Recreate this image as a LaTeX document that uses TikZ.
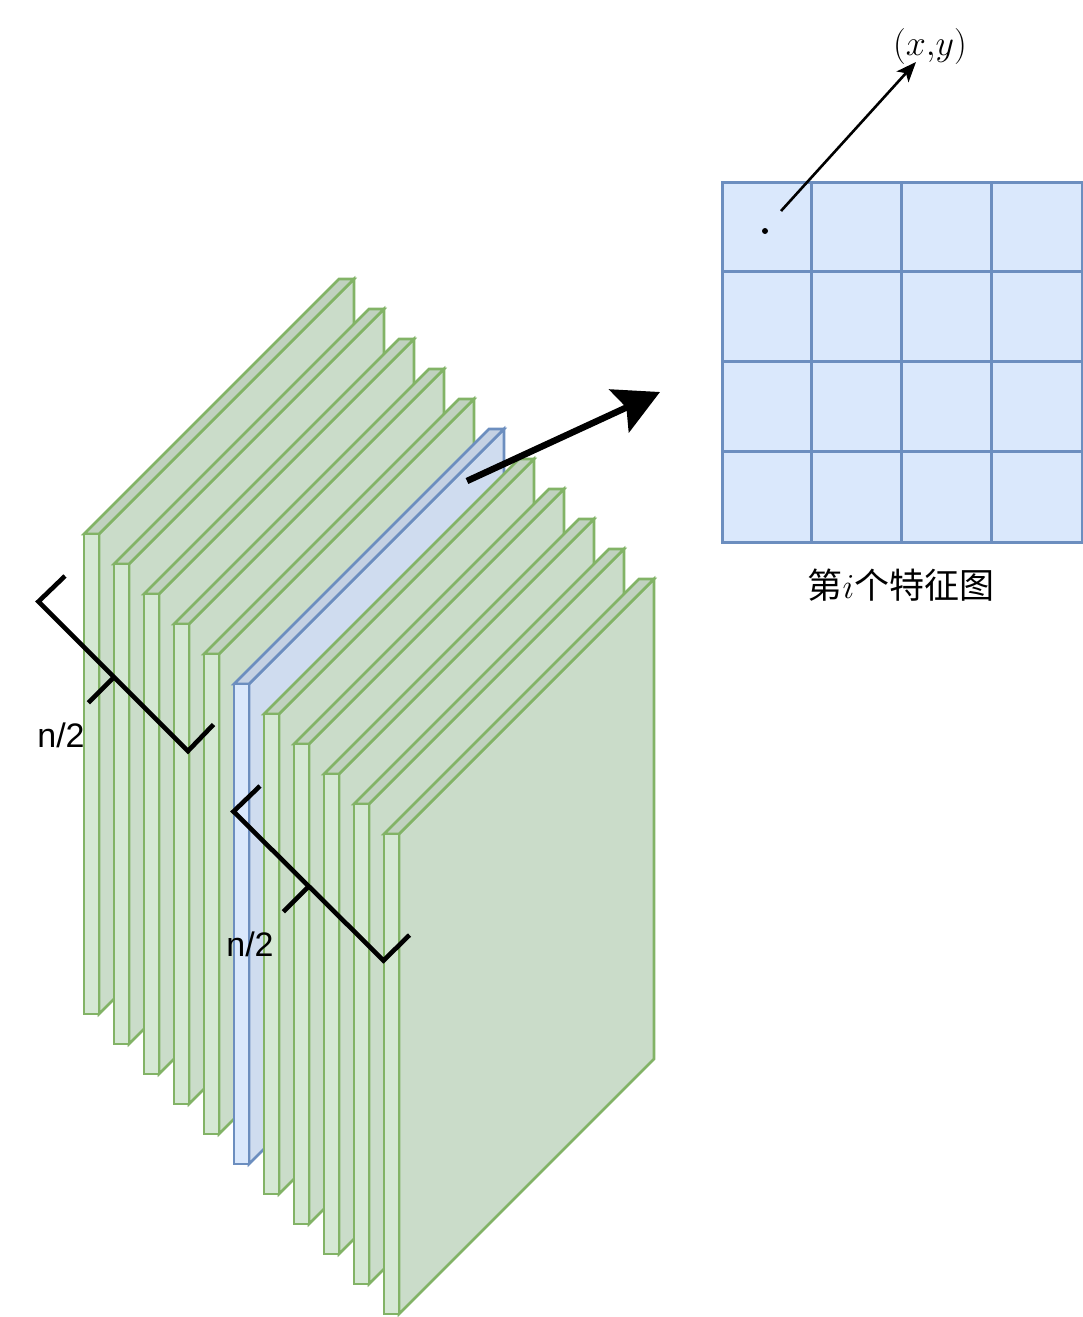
\documentclass[tikz,border=0pt]{standalone}
\usepackage{fix-cm}
\usepackage{fontspec}
\newfontfamily\cjk{Noto Sans CJK SC}
\newfontfamily\lsans{Liberation Sans}
\usetikzlibrary{arrows.meta}
\definecolor{gfill}{HTML}{D5E8D4}
\definecolor{gline}{HTML}{82B366}
\definecolor{bfill}{HTML}{DAE8FC}
\definecolor{bline}{HTML}{6C8EBF}
\tikzset{
  slabline/.style={line width=2.6pt, line join=miter},
  bracketline/.style={line width=4.6pt, line join=miter, black},
  gridline/.style={draw=bline, line width=3pt},
  nlabel/.style={font=\lsans\fontsize{34}{40}\selectfont, anchor=base, inner sep=0pt},
}
\begin{document}
\begin{tikzpicture}[x=1pt,y=-1pt]
\useasboundingbox (0,0) rectangle (1083,1317);
% stacked slabs
\foreach \k in {0,...,10}{
  \ifnum\k=5 \def\fc{bfill}\def\lc{bline}\else \def\fc{gfill}\def\lc{gline}\fi
  \pgfmathsetmacro\xa{84+30*\k}
  \pgfmathsetmacro\ya{534+30*\k}
  \begin{scope}[shift={(\xa,\ya)}, slabline, draw=\lc]
    \filldraw[fill=\fc!95!black] (15,0) -- (270,-255) -- (270,225) -- (15,480) -- cycle;
    \filldraw[fill=\fc!90!black] (0,0) -- (255,-255) -- (270,-255) -- (15,0) -- cycle;
    \filldraw[fill=\fc] (0,0) rectangle (15,480);
  \end{scope}
}
% brackets
\draw[bracketline] (65,576) -- (38.5,601.5) -- (188,751) -- (213.5,724.5);
\draw[bracketline] (114,677) -- (88.3,702.7);
\node[nlabel] (n1) at (61,747) {n/2};
\draw[bracketline] (260,786) -- (233.5,811.5) -- (383.5,960.5) -- (409.5,935);
\draw[bracketline] (308.3,886.7) -- (283.3,911.7);
\node[nlabel] (n2) at (250,956) {n/2};
% big arrow
\coordinate (bigs) at (467,481);
\coordinate (bige) at (660,392);
\draw[line width=6.5pt, -{Stealth[length=45pt, width=47pt, inset=8pt]}] (bigs) -- (bige);
% feature map grid
\node[gridline, fill=bfill, minimum width=360pt, minimum height=360pt, inner sep=0pt, anchor=north west] (fmap) at (721,181) {};
\foreach \i in {1,2,3}{
  \draw[gridline] (721+90*\i,181) -- (721+90*\i,541);
  \draw[gridline] (721,181+90*\i) -- (1081,181+90*\i);
}
\node (fmaplabel) at (901,585) {\cjk\fontsize{35}{40}\selectfont 第$i$个特征图};
% point and arrow
\coordinate (pt) at (765,231);
\fill (pt) circle (3pt);
\node (xy) at (930,47) {\fontsize{36}{42}\selectfont $(x{,}y)$};
\coordinate (as) at (781,211);
\coordinate (ae) at (916,62);
\draw[line width=2.6pt, -{Stealth[length=20pt, width=16pt, inset=5pt]}] (as) -- (ae);
\end{tikzpicture}
\end{document}
